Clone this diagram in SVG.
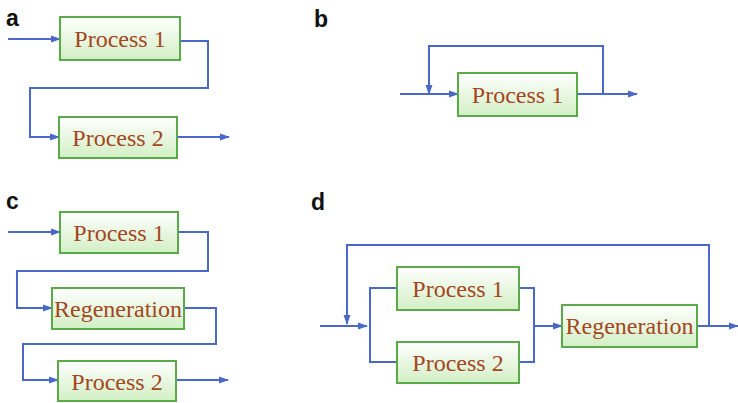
<svg xmlns="http://www.w3.org/2000/svg" width="738" height="403" viewBox="0 0 738 403">
  <style>
    .box { fill: url(#boxFill); stroke: #5aaa4a; stroke-width: 2; }
    .lbl { font-family: "Liberation Serif", "Times New Roman", serif; font-size: 24px; fill: #a4461e; text-anchor: middle; }
    .panel { font-family: "Liberation Sans", Arial, sans-serif; font-size: 23px; font-weight: bold; fill: #111; }
    .wire { fill: none; stroke: #4a68c8; stroke-width: 2; }
    .arr { marker-end: url(#head); }
  </style>
  <defs>
    <linearGradient id="boxFill" x1="0" y1="0" x2="0" y2="1">
      <stop offset="0" stop-color="#ffffff"/>
      <stop offset="1" stop-color="#d2efc4"/>
    </linearGradient>
    <marker id="head" markerWidth="10" markerHeight="8" refX="9" refY="4" orient="auto" markerUnits="userSpaceOnUse">
      <path d="M0,0.5 L10,4 L0,7.5 Z" fill="#4a68c8"/>
    </marker>
  </defs>

  <!-- panel labels -->
  <text class="panel" x="6" y="26">a</text>
  <text class="panel" x="314" y="27">b</text>
  <text class="panel" x="6" y="209">c</text>
  <text class="panel" x="311" y="210">d</text>

  <!-- connectors -->
  <g id="connectors">
    <!-- a: series -->
    <path class="wire arr" d="M8,39 H60"/>
    <path class="wire arr" d="M180,41 H208 V88 H30 V137 H59"/>
    <path class="wire arr" d="M177,137 H229"/>
    <!-- b: recycle -->
    <path class="wire arr" d="M400,94 H458"/>
    <path class="wire arr" d="M577,94 H637"/>
    <path class="wire arr" d="M603,94 V46 H429 V94"/>
    <!-- c: series with regeneration -->
    <path class="wire arr" d="M8,232 H60"/>
    <path class="wire arr" d="M178,232 H208 V271 H17 V308 H52"/>
    <path class="wire arr" d="M184,308 H216 V344 H23 V380 H58"/>
    <path class="wire arr" d="M176,380 H228"/>
    <!-- d: parallel with regeneration and recycle -->
    <path class="wire arr" d="M320,326 H367"/>
    <path class="wire" d="M397,288 H370 V362 H397"/>
    <path class="wire" d="M519,288 H534 V362 H519"/>
    <path class="wire arr" d="M534,326 H562"/>
    <path class="wire arr" d="M697,326 H738"/>
    <path class="wire arr" d="M709,326 V245 H347 V324"/>
  </g>

  <!-- a -->
  <g id="a-process1">
    <rect class="box" x="60" y="17" width="120" height="43"/>
    <text class="lbl" x="120" y="47">Process 1</text>
  </g>
  <g id="a-process2">
    <rect class="box" x="59" y="117" width="118" height="41"/>
    <text class="lbl" x="118" y="146">Process 2</text>
  </g>

  <!-- b -->
  <g id="b-process1">
    <rect class="box" x="458" y="73" width="119" height="43"/>
    <text class="lbl" x="517.5" y="103">Process 1</text>
  </g>

  <!-- c -->
  <g id="c-process1">
    <rect class="box" x="60" y="212" width="118" height="41"/>
    <text class="lbl" x="119" y="241">Process 1</text>
  </g>
  <g id="c-regeneration">
    <rect class="box" x="52" y="288" width="132" height="41"/>
    <text class="lbl" x="118" y="317">Regeneration</text>
  </g>
  <g id="c-process2">
    <rect class="box" x="58" y="361" width="118" height="40"/>
    <text class="lbl" x="117" y="390">Process 2</text>
  </g>

  <!-- d -->
  <g id="d-process1">
    <rect class="box" x="397" y="267" width="122" height="43"/>
    <text class="lbl" x="458" y="297">Process 1</text>
  </g>
  <g id="d-process2">
    <rect class="box" x="397" y="342" width="122" height="41"/>
    <text class="lbl" x="458" y="371">Process 2</text>
  </g>
  <g id="d-regeneration">
    <rect class="box" x="562" y="305" width="135" height="42"/>
    <text class="lbl" x="629.5" y="334">Regeneration</text>
  </g>
</svg>
